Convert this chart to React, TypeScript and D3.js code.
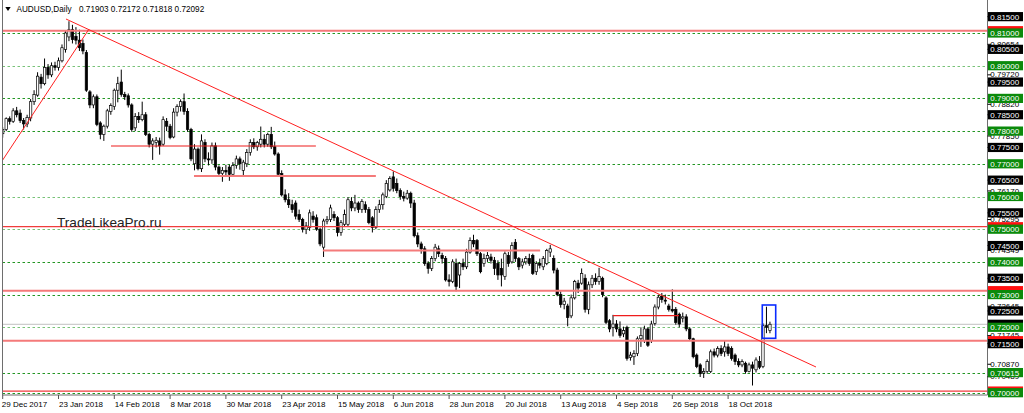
import React from "react";
import * as d3 from "d3";

type Bar = [number, number, number, number]; // open, high, low, close

const dec2017: Bar[] = [[0.7792, 0.7812, 0.778, 0.7805]];
const jan2018: Bar[] = [
  [0.7805, 0.7842, 0.78, 0.7838], [0.7838, 0.7845, 0.782, 0.783], [0.783, 0.787, 0.7825, 0.7862],
  [0.7862, 0.7874, 0.7842, 0.785], [0.7855, 0.7866, 0.7825, 0.7832], [0.7832, 0.784, 0.7805, 0.7822],
  [0.7822, 0.785, 0.7812, 0.7842], [0.784, 0.7898, 0.783, 0.789], [0.789, 0.7925, 0.788, 0.7912],
  [0.791, 0.798, 0.7905, 0.7968], [0.7965, 0.7975, 0.793, 0.7945], [0.7945, 0.8022, 0.794, 0.7995],
  [0.7995, 0.8005, 0.796, 0.7972], [0.7972, 0.801, 0.7965, 0.8], [0.8, 0.8012, 0.7985, 0.7995],
  [0.7995, 0.8025, 0.7985, 0.8015], [0.8015, 0.8065, 0.801, 0.8055], [0.805, 0.8108, 0.804, 0.81],
  [0.8088, 0.8136, 0.8075, 0.811], [0.811, 0.8125, 0.8068, 0.808], [0.809, 0.8118, 0.8065, 0.8078],
  [0.8078, 0.811, 0.8045, 0.8055],
];
const feb2018: Bar[] = [
  [0.8068, 0.808, 0.8035, 0.8045], [0.804, 0.8048, 0.792, 0.7925], [0.792, 0.7925, 0.787, 0.788],
  [0.788, 0.7912, 0.787, 0.7905], [0.7905, 0.7912, 0.7815, 0.782], [0.7825, 0.783, 0.7775, 0.779],
  [0.779, 0.782, 0.777, 0.7815], [0.7815, 0.7868, 0.7808, 0.7862], [0.786, 0.7885, 0.785, 0.7878],
  [0.7875, 0.793, 0.7865, 0.7925], [0.7925, 0.7966, 0.7888, 0.7945], [0.795, 0.7988, 0.7905, 0.7912],
  [0.7912, 0.792, 0.7895, 0.7905], [0.7908, 0.7915, 0.7872, 0.788], [0.788, 0.7885, 0.7798, 0.7805],
  [0.781, 0.7855, 0.78, 0.7845], [0.7845, 0.7858, 0.7825, 0.7835], [0.7835, 0.789, 0.783, 0.785],
  [0.785, 0.7858, 0.7785, 0.779], [0.779, 0.7795, 0.775, 0.776],
];
const mar2018: Bar[] = [
  [0.776, 0.7778, 0.7712, 0.777], [0.7765, 0.7782, 0.775, 0.7772], [0.777, 0.778, 0.7728, 0.7755],
  [0.776, 0.7845, 0.7755, 0.7835], [0.783, 0.784, 0.78, 0.7815], [0.7815, 0.7822, 0.7775, 0.778],
  [0.7782, 0.787, 0.7778, 0.7858], [0.7858, 0.7882, 0.7845, 0.7875], [0.7875, 0.7897, 0.786, 0.789],
  [0.789, 0.7915, 0.785, 0.786], [0.786, 0.787, 0.7798, 0.7805], [0.7805, 0.781, 0.7708, 0.7715],
  [0.77, 0.776, 0.768, 0.7745], [0.7745, 0.775, 0.768, 0.7685], [0.7685, 0.779, 0.7675, 0.777],
  [0.7765, 0.7775, 0.7705, 0.7715], [0.7715, 0.7735, 0.7695, 0.7712], [0.7712, 0.7765, 0.77, 0.7755],
  [0.7755, 0.7765, 0.768, 0.769], [0.769, 0.7695, 0.766, 0.767], [0.767, 0.769, 0.7645, 0.768],
  [0.768, 0.7697, 0.766, 0.7675],
];
const apr2018: Bar[] = [
  [0.769, 0.7697, 0.7648, 0.7668], [0.7668, 0.7705, 0.766, 0.7695], [0.7695, 0.7725, 0.7685, 0.7715],
  [0.7715, 0.7722, 0.7682, 0.77], [0.768, 0.7712, 0.766, 0.7705], [0.77, 0.7745, 0.769, 0.7735],
  [0.7735, 0.7775, 0.7725, 0.7765], [0.7765, 0.7778, 0.7745, 0.7752], [0.7752, 0.777, 0.774, 0.7765],
  [0.776, 0.7814, 0.775, 0.7775], [0.7775, 0.779, 0.775, 0.776], [0.776, 0.7795, 0.7752, 0.779],
  [0.779, 0.7813, 0.7745, 0.7752], [0.7752, 0.7768, 0.7725, 0.773], [0.773, 0.7735, 0.766, 0.7668],
  [0.767, 0.768, 0.76, 0.7605], [0.7605, 0.7622, 0.7582, 0.759], [0.759, 0.761, 0.7565, 0.7575],
  [0.7575, 0.759, 0.755, 0.756], [0.758, 0.7588, 0.753, 0.754], [0.7545, 0.756, 0.7522, 0.753],
];
const may2018: Bar[] = [
  [0.753, 0.7535, 0.749, 0.75], [0.75, 0.7522, 0.7485, 0.751], [0.7505, 0.756, 0.7495, 0.755],
  [0.754, 0.7555, 0.752, 0.753], [0.7535, 0.7545, 0.7495, 0.75], [0.75, 0.7505, 0.7448, 0.7455],
  [0.7445, 0.7532, 0.7415, 0.7525], [0.7525, 0.754, 0.7515, 0.753], [0.753, 0.7575, 0.7522, 0.7565],
  [0.7545, 0.7555, 0.7525, 0.7535], [0.7535, 0.754, 0.7478, 0.749], [0.749, 0.7528, 0.748, 0.752],
  [0.7515, 0.756, 0.751, 0.7545], [0.7515, 0.7598, 0.7508, 0.759], [0.7585, 0.7598, 0.7555, 0.7565],
  [0.7565, 0.7605, 0.7555, 0.758], [0.758, 0.7585, 0.755, 0.756], [0.756, 0.7592, 0.755, 0.7585],
  [0.7575, 0.7585, 0.755, 0.756], [0.756, 0.7568, 0.7515, 0.752], [0.7535, 0.754, 0.749, 0.7505],
  [0.7505, 0.757, 0.75, 0.756], [0.756, 0.759, 0.755, 0.7575],
];
const jun2018: Bar[] = [
  [0.7575, 0.7612, 0.756, 0.7605], [0.76, 0.765, 0.7595, 0.764], [0.762, 0.7662, 0.7615, 0.7655],
  [0.766, 0.7677, 0.7615, 0.7625], [0.764, 0.7655, 0.761, 0.7618], [0.7618, 0.7625, 0.759, 0.76],
  [0.76, 0.7615, 0.7585, 0.7595], [0.7595, 0.762, 0.759, 0.761], [0.761, 0.7615, 0.7565, 0.758],
  [0.758, 0.759, 0.7475, 0.748], [0.748, 0.749, 0.7445, 0.7455], [0.7455, 0.7462, 0.7425, 0.744],
  [0.744, 0.7448, 0.7388, 0.7395], [0.7395, 0.7402, 0.7364, 0.738], [0.738, 0.7418, 0.7372, 0.741],
  [0.741, 0.7455, 0.7402, 0.7445], [0.744, 0.745, 0.7415, 0.7425], [0.742, 0.7428, 0.7395, 0.741],
  [0.741, 0.7418, 0.734, 0.7345], [0.7345, 0.7362, 0.7325, 0.734], [0.734, 0.7408, 0.7335, 0.74],
];
const jul2018: Bar[] = [
  [0.7395, 0.741, 0.731, 0.7325], [0.736, 0.74, 0.732, 0.7395], [0.7395, 0.741, 0.7375, 0.7385],
  [0.7385, 0.744, 0.7378, 0.743], [0.743, 0.7475, 0.7425, 0.7465], [0.7465, 0.7483, 0.7445, 0.7455],
  [0.7465, 0.747, 0.7418, 0.7425], [0.7425, 0.743, 0.7365, 0.737], [0.7395, 0.7425, 0.7385, 0.741],
  [0.741, 0.743, 0.74, 0.742], [0.7415, 0.7425, 0.7395, 0.7405], [0.7405, 0.7415, 0.736, 0.738],
  [0.7395, 0.7405, 0.7345, 0.736], [0.738, 0.741, 0.7325, 0.736], [0.7355, 0.7432, 0.7345, 0.7425],
  [0.742, 0.743, 0.7385, 0.7395], [0.74, 0.746, 0.7395, 0.745], [0.746, 0.747, 0.74, 0.741],
  [0.741, 0.7415, 0.7375, 0.7385], [0.739, 0.741, 0.738, 0.74], [0.74, 0.7418, 0.7392, 0.741],
  [0.741, 0.7425, 0.7388, 0.7395],
];
const aug2018: Bar[] = [
  [0.742, 0.7425, 0.736, 0.7365], [0.737, 0.7402, 0.736, 0.7395], [0.7395, 0.741, 0.738, 0.739],
  [0.7385, 0.7418, 0.7375, 0.741], [0.7395, 0.744, 0.739, 0.7435], [0.743, 0.7452, 0.7415, 0.744],
  [0.741, 0.742, 0.7365, 0.7375], [0.7375, 0.7382, 0.7295, 0.73], [0.73, 0.731, 0.726, 0.727],
  [0.727, 0.729, 0.7255, 0.728], [0.7265, 0.7272, 0.7203, 0.723], [0.7235, 0.73, 0.7228, 0.729],
  [0.729, 0.7345, 0.7285, 0.734], [0.7335, 0.7345, 0.7305, 0.732], [0.7335, 0.738, 0.733, 0.7365],
  [0.735, 0.7362, 0.7245, 0.7255], [0.7255, 0.734, 0.724, 0.733], [0.733, 0.736, 0.732, 0.735],
  [0.735, 0.7365, 0.733, 0.734], [0.734, 0.7382, 0.733, 0.7355], [0.735, 0.7355, 0.7292, 0.73],
  [0.729, 0.7295, 0.721, 0.7215], [0.722, 0.7225, 0.7185, 0.7195],
];
const sep2018: Bar[] = [
  [0.72, 0.7238, 0.7172, 0.721], [0.721, 0.7222, 0.7185, 0.7195], [0.7195, 0.7218, 0.7168, 0.7175],
  [0.718, 0.7202, 0.717, 0.719], [0.72, 0.7205, 0.7098, 0.7105], [0.7108, 0.7125, 0.7098, 0.7115],
  [0.711, 0.713, 0.7085, 0.712], [0.712, 0.7172, 0.7112, 0.7165], [0.7165, 0.72, 0.714, 0.7175],
  [0.716, 0.7205, 0.7152, 0.7195], [0.7195, 0.72, 0.714, 0.7145], [0.716, 0.722, 0.7152, 0.721],
  [0.7212, 0.727, 0.7205, 0.7262], [0.7262, 0.73, 0.7255, 0.7292], [0.7295, 0.7305, 0.7275, 0.7285],
  [0.7283, 0.73, 0.727, 0.728], [0.7265, 0.7272, 0.7248, 0.7255], [0.7255, 0.7316, 0.7245, 0.725],
  [0.7255, 0.7262, 0.7208, 0.7215], [0.724, 0.7245, 0.72, 0.721],
];
const oct2018: Bar[] = [
  [0.7228, 0.7245, 0.7215, 0.7232], [0.7232, 0.724, 0.7188, 0.7195], [0.7195, 0.72, 0.7158, 0.7165],
  [0.7165, 0.7168, 0.7105, 0.711], [0.7115, 0.712, 0.7075, 0.708], [0.7085, 0.709, 0.7048, 0.7058],
  [0.706, 0.7075, 0.7045, 0.7065], [0.7065, 0.7102, 0.7058, 0.7095], [0.7065, 0.7132, 0.706, 0.7125],
  [0.7125, 0.7135, 0.7108, 0.7115], [0.7115, 0.7142, 0.7108, 0.7135], [0.7135, 0.7145, 0.7112, 0.712],
  [0.7125, 0.716, 0.711, 0.714], [0.714, 0.715, 0.7112, 0.712], [0.7135, 0.7142, 0.7098, 0.7105],
  [0.7115, 0.712, 0.7085, 0.7095], [0.7095, 0.7105, 0.7078, 0.7085], [0.7085, 0.7102, 0.7078, 0.7095],
  [0.709, 0.7095, 0.7058, 0.7065], [0.7065, 0.7092, 0.7062, 0.7085], [0.7085, 0.7095, 0.7022, 0.7075],
  [0.707, 0.7108, 0.7062, 0.71], [0.7095, 0.7112, 0.7072, 0.7078],
];
const nov2018: Bar[] = [
  [0.708, 0.7212, 0.7075, 0.7205], [0.7205, 0.7263, 0.7182, 0.72], [0.71903, 0.72172, 0.71818, 0.72092],
];

const bars: Bar[] = [
  ...dec2017, ...jan2018, ...feb2018, ...mar2018, ...apr2018, ...may2018,
  ...jun2018, ...jul2018, ...aug2018, ...sep2018, ...oct2018, ...nov2018,
];

const dateLabels = [
  "29 Dec 2017", "23 Jan 2018", "14 Feb 2018", "8 Mar 2018", "30 Mar 2018", "23 Apr 2018", "15 May 2018",
  "6 Jun 2018", "28 Jun 2018", "20 Jul 2018", "13 Aug 2018", "4 Sep 2018", "26 Sep 2018", "18 Oct 2018",
];
const dateStep = 16;

const gridLevels = [0.81, 0.8, 0.79, 0.78, 0.77, 0.76, 0.75, 0.74, 0.73, 0.72, 0.70615, 0.7];
const lightGridLevels = [0.8, 0.76, 0.75, 0.72];
const scaleLevels = [0.815, 0.805, 0.795, 0.785, 0.775, 0.765, 0.755, 0.745, 0.735, 0.725, 0.715];
const pinkLevels = [0.8107, 0.7312, 0.7159];
const redLevels = [0.75076, 0.7005];
const bidPrice = 0.72092;
const lineLabels = [0.80654, 0.7972, 0.7882, 0.7785, 0.7617, 0.75295, 0.74349, 0.72645, 0.71745, 0.7087, 0.70489];

// horizontal segments: [startBar, endBar, price]
const darkSegments: [number, number, number][] = [
  [31.05, 89.8, 0.77544],
  [175.0, 193.9, 0.72355],
];
const pinkSegments: [number, number, number][] = [
  [54.85, 107.0, 0.76627],
  [91.8, 154.1, 0.74349],
];
// trend lines: [bar0, price0, bar1, price1]
const trendLines: [number, number, number, number][] = [
  [0, 0.77116, 24.75, 0.81122],
  [18.15, 0.81428, 233.2, 0.70786],
];
const boxBars = [217.8, 221.65];
const boxPrices = [0.72682, 0.71664];

const headerSymbol = "AUDUSD,Daily";
const headerValues = "0.71903 0.72172 0.71818 0.72092";
const watermark = "TradeLikeaPro.ru";

const W = 1024;
const H = 413;
const plotLeft = 2.5;
const plotRight = 987.5;
const plotBottom = 395;
const FONT = "'Liberation Sans', Arial, sans-serif";

export default function App() {
  const x = d3.scaleLinear().domain([0, 208]).range([2.7, 728.1]);
  const y = d3.scaleLinear().domain([0.7, 0.81]).range([392.7, 33]);
  const fmt = d3.format(".5f");
  const bw = 2.4;

  const box = (p: number, fill: string, key: string, showText: boolean) => (
    <g key={key}>
      <rect x={988} y={y(p) - 4.6} width={35} height={9.2} fill={fill} />
      {showText && (
        <text x={990.3} y={y(p) + 3} fontSize={8} fill="#fff" fontFamily={FONT}>
          {fmt(p)}
        </text>
      )}
    </g>
  );

  return (
    <svg
      width={W}
      height={H}
      style={{ position: "absolute", left: 0, top: 0, display: "block", background: "#fff" }}
    >
      <defs>
        <clipPath id="plot">
          <rect x={plotLeft} y={0} width={plotRight - plotLeft} height={plotBottom} />
        </clipPath>
      </defs>
      <rect x={0} y={0} width={W} height={H} fill="#fff" />
      <g clipPath="url(#plot)">
        {gridLevels.map((p) => (
          <line
            key={"g" + p}
            x1={plotLeft}
            x2={plotRight}
            y1={Math.round(y(p)) + 0.5}
            y2={Math.round(y(p)) + 0.5}
            stroke={lightGridLevels.includes(p) ? "#78c278" : "#229622"}
            strokeWidth={1}
            strokeDasharray="2.5 2.5"
          />
        ))}
        <line
          x1={plotLeft}
          x2={plotRight}
          y1={y(bidPrice)}
          y2={y(bidPrice)}
          stroke="#c0c0c0"
          strokeWidth={1}
        />
        {bars.map((b, i) => {
          const [o, h, l, c] = b;
          const cx = x(i);
          const bull = c >= o;
          const top = y(Math.max(o, c));
          const bot = y(Math.min(o, c));
          return (
            <g key={"c" + i}>
              <line x1={cx} x2={cx} y1={y(h)} y2={y(l)} stroke="#000" strokeWidth={1} />
              <rect
                x={cx - bw / 2}
                y={top}
                width={bw}
                height={Math.max(bot - top, 0.8)}
                fill={bull ? "#fff" : "#000"}
                stroke="#000"
                strokeWidth={0.7}
              />
            </g>
          );
        })}
        {pinkLevels.map((p) => (
          <line key={"pk" + p} x1={plotLeft} x2={plotRight} y1={y(p)} y2={y(p)} stroke="#f47a7a" strokeWidth={2} />
        ))}
        {redLevels.map((p) => (
          <line key={"rd" + p} x1={plotLeft} x2={plotRight} y1={y(p)} y2={y(p)} stroke="#f03c3c" strokeWidth={1.3} />
        ))}
        {pinkSegments.map((s, k) => (
          <line key={"ps" + k} x1={x(s[0])} x2={x(s[1])} y1={y(s[2])} y2={y(s[2])} stroke="#f47a7a" strokeWidth={2} />
        ))}
        {darkSegments.map((s, k) => (
          <line key={"ds" + k} x1={x(s[0])} x2={x(s[1])} y1={y(s[2])} y2={y(s[2])} stroke="#ee1c1c" strokeWidth={1.2} />
        ))}
        {trendLines.map((t, k) => (
          <line key={"t" + k} x1={x(t[0])} y1={y(t[1])} x2={x(t[2])} y2={y(t[3])} stroke="#ff2020" strokeWidth={1} />
        ))}
        <rect
          x={x(boxBars[0])}
          y={y(boxPrices[0])}
          width={x(boxBars[1]) - x(boxBars[0])}
          height={y(boxPrices[1]) - y(boxPrices[0])}
          fill="none"
          stroke="#0a2cff"
          strokeWidth={1.6}
        />
      </g>

      {/* header */}
      <path d="M5.3,7 L10.7,7 L8,11 Z" fill="#000" />
      <text x={16.5} y={12.4} fontSize={8.2} fontFamily={FONT} fill="#000">
        {headerSymbol}
      </text>
      <text x={79} y={12.4} fontSize={8.2} fontFamily={FONT} fill="#000">
        {headerValues}
      </text>
      <text x={57} y={227} fontSize={13.6} fontFamily={FONT} fill="#222">
        {watermark}
      </text>

      {/* frame */}
      <line x1={plotLeft} x2={plotLeft} y1={0} y2={plotBottom} stroke="#6e6e6e" strokeWidth={1} />
      <line x1={plotRight} x2={plotRight} y1={0} y2={plotBottom} stroke="#6e6e6e" strokeWidth={1} />
      <line x1={plotLeft} x2={plotRight} y1={plotBottom} y2={plotBottom} stroke="#6e6e6e" strokeWidth={1} />

      {/* bottom axis */}
      {dateLabels.map((d, k) => {
        const tx = x(k * dateStep);
        return (
          <g key={"d" + k}>
            <line x1={tx} x2={tx} y1={plotBottom} y2={plotBottom + 4} stroke="#555" strokeWidth={1} />
            <text x={k === 0 ? 1.8 : tx + 0.5} y={406.5} fontSize={8} fontFamily={FONT} fill="#000">
              {d}
            </text>
          </g>
        );
      })}

      {/* right axis */}
      {lineLabels.map((p) => (
        <g key={"ll" + p}>
          <line x1={plotRight} x2={991} y1={y(p)} y2={y(p)} stroke="#000" strokeWidth={1} />
          <text x={990.3} y={y(p) + 2.6} fontSize={8} fontFamily={FONT} fill="#000">
            {fmt(p)}
          </text>
        </g>
      ))}
      {[...pinkLevels, ...redLevels].map((p) => box(p, "#ff1010", "rb" + p, false))}
      {box(bidPrice, "#000", "bid", false)}
      {scaleLevels.map((p) => (
        <g key={"sl" + p}>
          <line x1={plotRight} x2={991} y1={y(p)} y2={y(p)} stroke="#000" strokeWidth={1} />
          {box(p, "#000", "sb" + p, true)}
        </g>
      ))}
      {gridLevels.map((p) => box(p, "#0b8a0b", "gb" + p, true))}
    </svg>
  );
}
